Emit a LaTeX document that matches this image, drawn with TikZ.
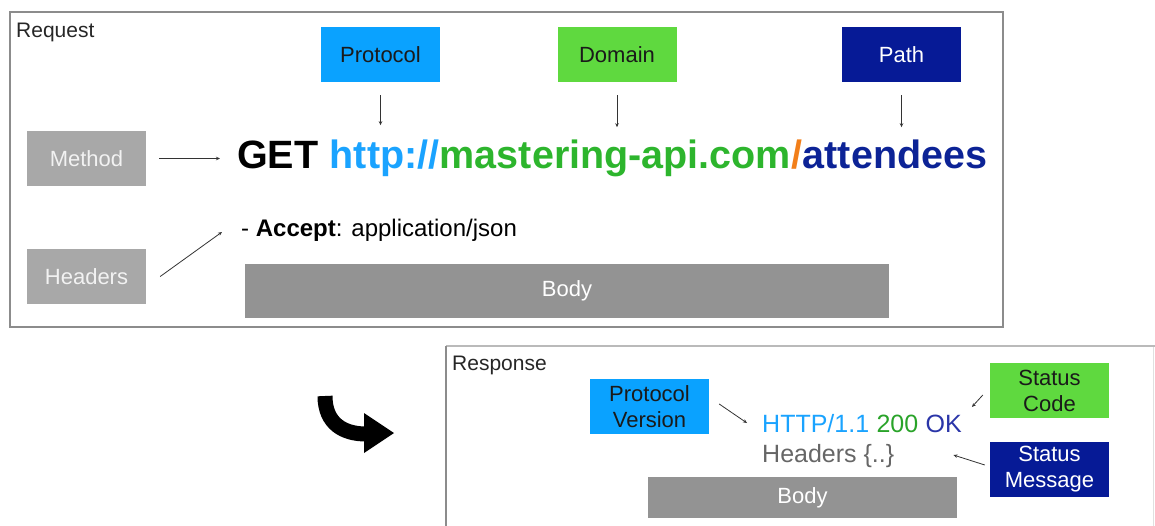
\documentclass[tikz,border=0pt]{standalone}
\usepackage{fontspec}
\setmainfont{Liberation Sans}
\usetikzlibrary{arrows.meta}
\definecolor{framegray}{HTML}{8C8C8C}
\definecolor{lightgray}{HTML}{A8A8A8}
\definecolor{bodygray}{HTML}{939393}
\definecolor{protoblue}{HTML}{0AA2FF}
\definecolor{domgreen}{HTML}{5FD93F}
\definecolor{pathblue}{HTML}{061A96}
\definecolor{txtblue}{HTML}{1AA3FF}
\definecolor{txtgreen}{HTML}{2DB52D}
\definecolor{txtorange}{HTML}{F27F1A}
\definecolor{txtdark}{HTML}{0C2396}
\definecolor{okblue}{HTML}{2A35A8}
\definecolor{hdrgray}{HTML}{666666}
\definecolor{boxtext}{HTML}{1A1A1A}
\tikzset{
  lbl/.style={inner sep=0pt, font=\fontsize{22}{26}\selectfont, align=center},
  tagbox/.style={lbl, minimum width=119pt, minimum height=55pt},
  txt/.style={inner sep=0pt, anchor=base west},
  ptr/.style={-{Stealth[length=4pt,width=3.5pt]}, line width=0.8pt, draw=black!80},
}
\begin{document}
\begin{tikzpicture}[x=1pt,y=-1pt]
\useasboundingbox (0,0) rectangle (1155,525);
\begin{scope}
\clip (0,0) rectangle (1155,525);
% frames
\draw[framegray, line width=1.6pt] (10,12) rectangle (1003,327);
\draw[framegray!60, line width=1.6pt] (446,346) -- (1155,346);
\draw[framegray, line width=1.6pt] (446,346) -- (446,530);
\draw[black!12, line width=1pt] (1153,347) -- (1153,530);
\end{scope}

\node[txt, font=\fontsize{21}{25}\selectfont, text=black!85] (reqlbl) at (16,37) {Request};
\node[txt, font=\fontsize{21}{25}\selectfont, text=black!85] (reslbl) at (452,370) {Response};

% Request tags
\node[tagbox, fill=protoblue, text=boxtext] (proto) at (380.5,54.5) {Protocol};
\node[tagbox, fill=domgreen, text=boxtext] (domain) at (617,54.5) {Domain};
\node[tagbox, fill=pathblue, text=white] (path) at (901.5,54.5) {Path};
\node[tagbox, fill=lightgray, text=white!95!black] (method) at (86.5,158.5) {Method};
\node[tagbox, fill=lightgray, text=white!95!black] (headers) at (86.5,276.5) {Headers};
\node[lbl, fill=bodygray, text=white, minimum width=644pt, minimum height=54pt] (body) at (567,291) {Body};

% URL line
\begin{scope}[every node/.style={txt, font=\fontsize{39.5}{44}\selectfont\bfseries}]
\node (get) at (237,168) {GET\kern0.278em};
\node[text=txtblue] (proto txt) at (get.base east) {http://};
\node[text=txtgreen] (dom txt) at (proto txt.base east) {mastering-api.com};
\node[text=txtorange] (slash txt) at (dom txt.base east) {/};
\node[text=txtdark] (path txt) at (slash txt.base east) {attendees};
\end{scope}
\node[txt, font=\fontsize{24}{28}\selectfont] (accept) at (241,236) {- \textbf{Accept}: application/json};

\draw[ptr] ([yshift=-13pt]proto.south) -- ([yshift=-43pt]proto.south);
\draw[ptr] ([yshift=-13pt]domain.south) -- ([yshift=-45pt]domain.south);
\draw[ptr] ([yshift=-13pt]path.south) -- ([yshift=-45pt]path.south);
\draw[ptr] ([xshift=13pt]method.east) -- ([xshift=-17pt]get.west |- method.east);
\draw[ptr] ([xshift=14pt]headers.east) -- ([xshift=-19pt,yshift=4pt]accept.base west);

% curved arrow
\draw[line width=15pt] (325,396) .. controls (325,424) and (344,434) .. (366,434);
\fill (364,413) -- (394,433) -- (364,453) -- cycle;

% Response
\node[tagbox, fill=protoblue, text=boxtext] (pver) at (649.5,406.5) {Protocol\\Version};
\node[tagbox, fill=domgreen, text=boxtext] (scode) at (1049.5,390.5) {Status\\Code};
\node[tagbox, fill=pathblue, text=white] (smsg) at (1049.5,469.5) {Status\\Message};
\node[lbl, fill=bodygray, text=white, minimum width=309pt, minimum height=41pt] (rbody) at (802.5,497.5) {Body};

\begin{scope}[every node/.style={txt, font=\fontsize{25}{30}\selectfont}]
\node[text=txtblue] (http) at (762,432) {HTTP/1.1\kern0.278em};
\node[text=txtgreen!90!black] (code) at (http.base east) {200\kern0.278em};
\node[text=okblue] (ok) at (code.base east) {OK};
\node[text=hdrgray] (rhdr) at (762,462) {Headers \{..\}};
\end{scope}

\draw[ptr] ([xshift=10pt,yshift=2.5pt]pver.east) -- ([xshift=-15pt,yshift=9pt]http.base west);
\draw[ptr] ([xshift=-7pt,yshift=-4.5pt]scode.west) -- ([xshift=10pt,yshift=25pt]ok.base east);
\draw[ptr] ([xshift=-5pt,yshift=4.5pt]smsg.west) -- ([xshift=59pt,yshift=7pt]rhdr.base east);
\end{tikzpicture}
\end{document}
